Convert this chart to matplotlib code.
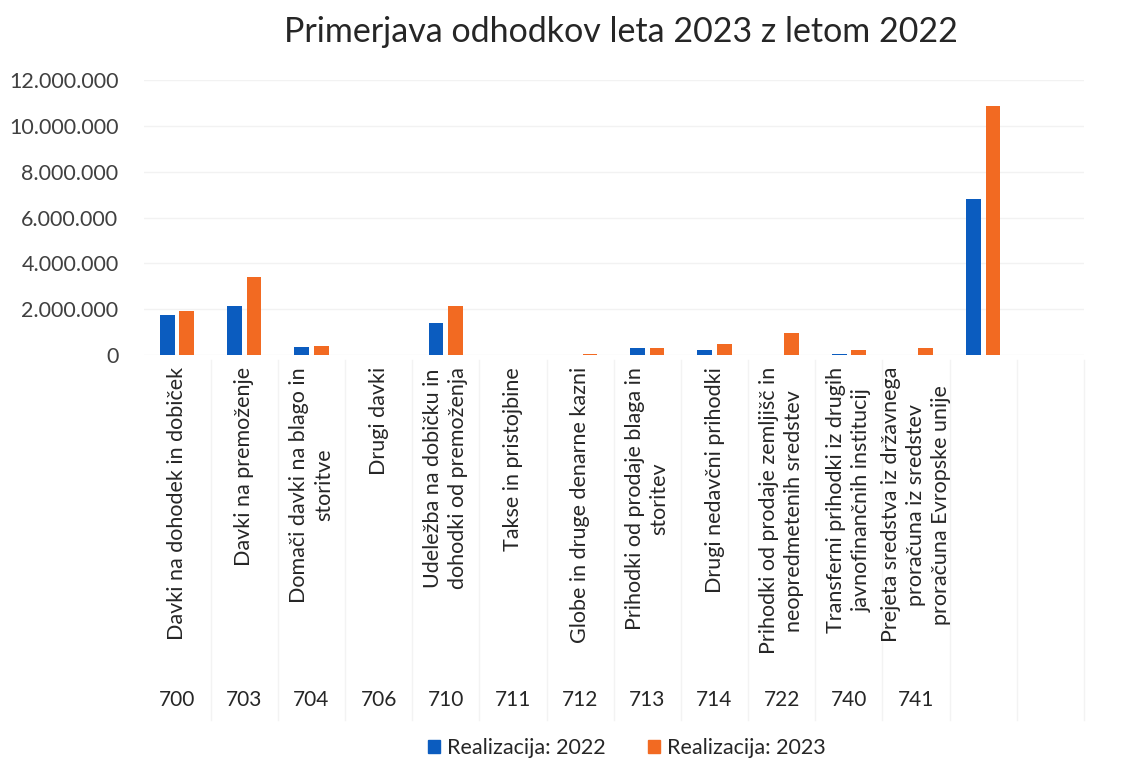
import numpy as np
import matplotlib
matplotlib.use("Agg")
import matplotlib.pyplot as plt
from matplotlib.patches import Patch
from matplotlib.ticker import FuncFormatter, MultipleLocator
from matplotlib.transforms import blended_transform_factory

plt.rcParams['font.family'] = ['Lato', 'DejaVu Sans']

title = "Primerjava odhodkov leta 2023 z letom 2022"
codes = ['700', '703', '704', '706', '710', '711', '712', '713', '714', '722', '740', '741', '', '']
labels = [
    "Davki na dohodek in dobiček",
    "Davki na premoženje",
    "Domači davki na blago in\nstoritve",
    "Drugi davki",
    "Udeležba na dobičku in\ndohodki od premoženja",
    "Takse in pristojbine",
    "Globe in druge denarne kazni",
    "Prihodki od prodaje blaga in\nstoritev",
    "Drugi nedavčni prihodki",
    "Prihodki od prodaje zemljišč in\nneopredmetenih sredstev",
    "Transferni prihodki iz drugih\njavnofinančnih institucij",
    "Prejeta sredstva iz državnega\nproračuna iz sredstev\nproračuna Evropske unije",
    "",
    "",
]
series_names = ["Realizacija: 2022", "Realizacija: 2023"]
real_2022 = [1750000, 2150000, 360000, 0, 1380000, 10000, 5000, 320000, 220000, 0, 60000, 0, 6800000, np.nan]
real_2023 = [1920000, 3420000, 390000, 0, 2150000, 10000, 25000, 320000, 480000, 970000, 220000, 320000, 10870000, np.nan]

c_blue = '#0B5CBF'
c_orange = '#F26A22'

W, H = 1145, 762
fig = plt.figure(figsize=(W / 100, H / 100), dpi=100)
ax = fig.add_axes([143.5 / W, 1 - 355 / H, (1084 - 143.5) / W, (355 - 80) / H])

x = np.arange(len(codes))
bw = 0.22
off = 0.145
ax.bar(x - off, real_2022, bw, color=c_blue, zorder=3)
ax.bar(x + off, real_2023, bw, color=c_orange, zorder=3)

ax.set_xlim(-0.5, len(codes) - 0.5)
ax.set_ylim(0, 12000000)
ax.yaxis.set_major_locator(MultipleLocator(2000000))
ax.yaxis.set_major_formatter(FuncFormatter(lambda v, p: f"{int(v):,}".replace(",", ".")))
ax.tick_params(axis='y', length=0, pad=18, labelsize=15.5, labelcolor='#404040')
ax.set_xticks([])
for s in ax.spines.values():
    s.set_visible(False)
ax.grid(axis='y', color='#f2f2f2', linewidth=1, zorder=0)

tr = blended_transform_factory(ax.transData, fig.transFigure)
for i, (lab, code) in enumerate(zip(labels, codes)):
    if lab:
        ax.text(i, 1 - 367 / H, lab, transform=tr, rotation=90, ha='center', va='top',
                multialignment='center', fontsize=15.5, linespacing=1.3, color='#262626')
    if code:
        ax.text(i, 1 - 700 / H, code, transform=tr, ha='center', va='center',
                fontsize=15, color='#262626')
for b in np.arange(0.5, len(codes), 1.0):
    ax.plot([b, b], [1 - 360 / H, 1 - 720 / H], transform=tr, color='#f3f3f3',
            linewidth=1, clip_on=False)

fig.text(621 / W, 1 - 32 / H, title, ha='center', va='center', fontsize=24.5, color='#262626')

handles = [Patch(color=c_blue), Patch(color=c_orange)]
fig.legend(handles, series_names, loc='center', bbox_to_anchor=(627 / W, 1 - 748 / H),
           ncol=2, frameon=False, fontsize=15.5, handlelength=0.55, handleheight=0.55,
           handletextpad=0.3, columnspacing=2.0, labelcolor='#262626')

fig.savefig("out.png", dpi=100)
